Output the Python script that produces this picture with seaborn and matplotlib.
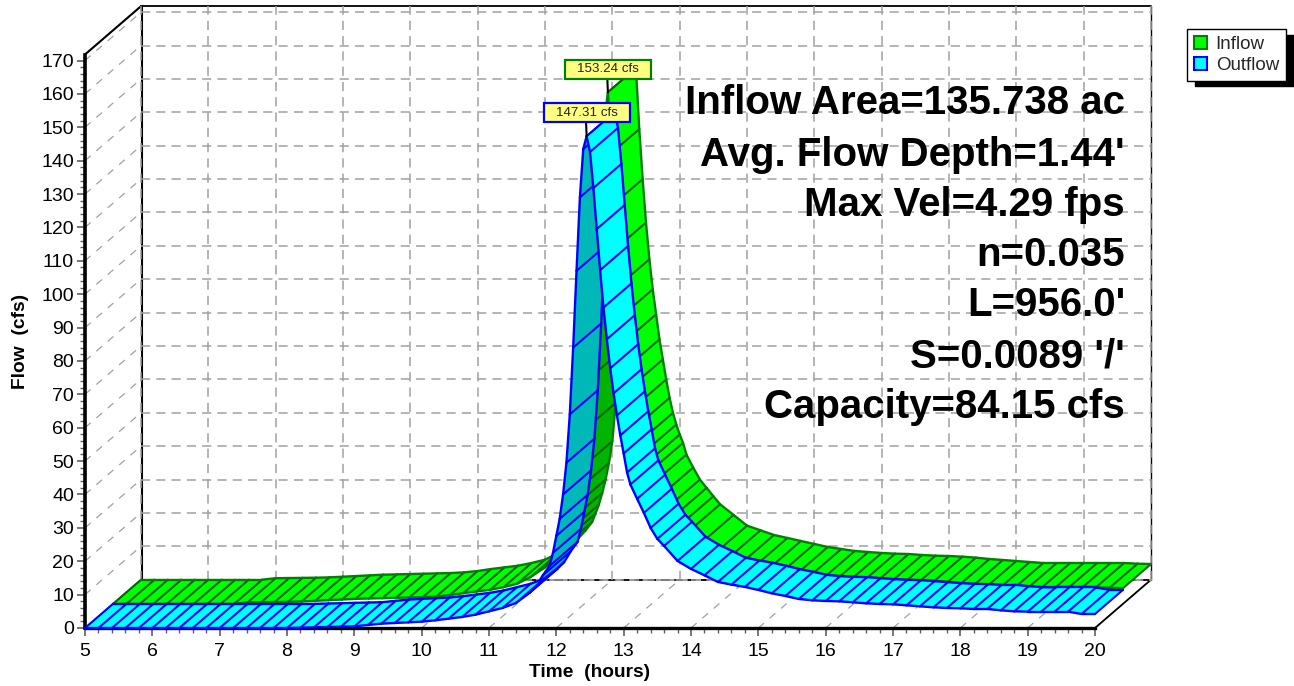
import numpy as np
import pandas as pd
import seaborn as sns
import matplotlib.pyplot as plt
from matplotlib.patches import Patch
from matplotlib.path import Path
from matplotlib.ticker import AutoMinorLocator

outflow_hours = [5, 5.2, 5.4, 5.6, 5.8, 6, 6.2, 6.4, 6.6, 6.8, 7, 7.2, 7.4, 7.6, 7.8, 8,
                 8.2, 8.4, 8.6, 8.8, 9, 9.2, 9.4, 9.6, 9.8, 10, 10.2, 10.4, 10.6, 10.8, 11, 11.2,
                 11.4, 11.6, 11.7, 11.8, 11.9, 11.95, 12, 12.05, 12.1, 12.15, 12.2, 12.25, 12.3, 12.35,
                 12.4, 12.45, 12.5, 12.55, 12.6, 12.65, 12.7, 12.75, 12.8, 12.85, 12.9, 12.95, 13, 13.05,
                 13.1, 13.2, 13.3, 13.4, 13.5, 13.6, 13.8, 14, 14.2, 14.4, 14.6, 14.8, 15, 15.2, 15.4, 15.6,
                 15.8, 16, 16.2, 16.4, 16.6, 16.8, 17, 17.2, 17.4, 17.6, 17.8, 18, 18.2, 18.4, 18.6, 18.8,
                 19, 19.2, 19.4, 19.6, 19.8, 20]
outflow_cfs = [0, 0, 0, 0, 0, 0, 0, 0, 0, 0, 0, 0, 0, 0, 0, 0,
               0.1, 0.2, 0.3, 0.4, 0.5, 0.9, 1.3, 1.5, 1.7, 1.9, 2.3, 2.8, 3.3, 4.0, 5.0, 6.0,
               7.5, 10.5, 12.5, 15.8, 18.6, 22.5, 27.6, 32.7, 40, 49.5, 64, 84, 107, 129,
               143.5, 147.31, 142.6, 131.8, 119.5, 107.2, 96, 86.5, 77.8, 70.3, 63.7, 57.7, 52.3, 46.6,
               43, 38.7, 34.5, 30, 26.7, 24.6, 20.1, 17.7, 15.8, 13.8, 13, 12.3, 11.4, 10.4, 9.6, 8.7,
               8.3, 8.1, 8, 7.7, 7.4, 7.2, 7.1, 6.8, 6.5, 6.2, 6, 5.9, 5.7, 5.7, 5.3, 5,
               4.9, 4.9, 4.9, 4.9, 4.2, 4.2]

inflow_hours = [5, 5.2, 5.4, 5.6, 5.8, 6, 6.2, 6.4, 6.6, 6.8, 7, 7.2, 7.4, 7.6, 7.8, 8,
                8.2, 8.4, 8.6, 8.8, 9, 9.2, 9.4, 9.6, 9.8, 10, 10.2, 10.4, 10.6, 10.8, 11, 11.2,
                11.4, 11.5, 11.6, 11.7, 11.75, 11.8, 11.85, 11.9, 11.95, 12, 12.05, 12.1, 12.15, 12.2, 12.25, 12.3,
                12.35, 12.4, 12.45, 12.5, 12.55, 12.6, 12.65, 12.7, 12.75, 12.8, 12.85, 12.9, 12.95, 13, 13.05,
                13.1, 13.2, 13.3, 13.4, 13.5, 13.6, 13.8, 14, 14.2, 14.4, 14.6, 14.8, 15, 15.2, 15.4, 15.6,
                15.8, 16, 16.2, 16.4, 16.6, 16.8, 17, 17.2, 17.4, 17.6, 17.8, 18, 18.2, 18.4, 18.6, 18.8,
                19, 19.2, 19.4, 19.6, 19.8, 20]
inflow_cfs = [0, 0, 0, 0, 0, 0, 0, 0, 0, 0, 0.45, 0.5, 0.55, 0.6, 0.7, 0.9,
              1.1, 1.3, 1.5, 1.6, 1.7, 1.8, 1.9, 2, 2.2, 2.6, 3.2, 3.7, 4.2, 5, 6, 8,
              10.7, 12.5, 14.7, 17.3, 19.8, 22.5, 26, 30, 35, 41.5, 53, 68, 88, 108, 128, 145,
              153.24, 135, 120, 107, 96, 87, 79.5, 72, 66, 60, 54.5, 50, 46.5, 43.5, 41,
              37.5, 33.6, 30, 27.5, 25, 22.6, 19.4, 16.2, 14.8, 13.4, 12.5, 11.6, 10.7, 9.8, 9.2, 8.6,
              8.3, 8, 7.8, 7.7, 7.4, 7.2, 7.1, 6.9, 6.6, 6.2, 5.9, 5.6, 5.3, 5, 5, 5,
              5, 5, 5, 5, 4.8, 4.7]

hour_ticks = list(range(5, 21))
flow_ticks = list(range(0, 171, 10))
info_lines = ["Inflow Area=135.738 ac", "Avg. Flow Depth=1.44'", "Max Vel=4.29 fps", "n=0.035",
              "L=956.0'", "S=0.0089 '/'", "Capacity=84.15 cfs"]
info_y = [102.5, 154.5, 204.5, 255.5, 305.5, 356.5, 407.5]

W, H = 1294, 686
PLOT_L, PLOT_R, PLOT_T, PLOT_B = 85, 1095, 54.5, 628
XLIM = (5, 20)
YLIM = (0, 171.8)
PX_H = (PLOT_R - PLOT_L) / (XLIM[1] - XLIM[0])
PX_Q = (PLOT_B - PLOT_T) / YLIM[1]
# full depth of the fake 3d box, in data units
DX = 56 / PX_H
DQ = 48.3 / PX_Q

GREY = '#a0a0a0'
DASH = (0, (6, 4))

sns.set_theme(style='white')
plt.rcParams['font.family'] = ['Liberation Sans', 'DejaVu Sans']

fig = plt.figure(figsize=(W / 100, H / 100), dpi=100)
ax = fig.add_axes([PLOT_L / W, 1 - PLOT_B / H, (PLOT_R - PLOT_L) / W, (PLOT_B - PLOT_T) / H])


def segs_to_df(segs):
    rows = []
    for k, (xs, ys) in enumerate(segs):
        for a, b in zip(xs, ys):
            rows.append((a, b, k))
    return pd.DataFrame(rows, columns=['x', 'y', 'seg'])


def draw_segs(segs, color, lw, z):
    if not segs:
        return
    sns.lineplot(data=segs_to_df(segs), x='x', y='y', units='seg', estimator=None, sort=False,
                 color=color, linewidth=lw, legend=False, clip_on=False, zorder=z, ax=ax)


def draw_ribbon(hours, cfs, depth, light, dark, edge, hatch, z):
    x0 = np.array(hours, dtype=float) + depth * DX
    y0 = np.array(cfs, dtype=float) + depth * DQ
    x1, y1 = x0 + DX / 2, y0 + DQ / 2
    n = len(x0)
    # a quad facing away from the viewer shows its darker underside
    top = [(x0[i + 1] - x0[i]) * PX_H * DQ / 2 * PX_Q - (y0[i + 1] - y0[i]) * PX_Q * DX / 2 * PX_H >= 0
           for i in range(n - 1)]
    for layer, col, lz in [(False, dark, z), (True, light, z + 1)]:
        idx = [i for i in range(n - 1) if top[i] == layer]
        edges, cross = [], []
        done = set()
        for i in idx:
            ax.fill([x0[i], x0[i + 1], x1[i + 1], x1[i]], [y0[i], y0[i + 1], y1[i + 1], y1[i]],
                    facecolor=col, edgecolor=col, linewidth=0.3, clip_on=False, zorder=lz)
            edges.append(([x0[i], x0[i + 1]], [y0[i], y0[i + 1]]))
            edges.append(([x1[i], x1[i + 1]], [y1[i], y1[i + 1]]))
            done.update([i, i + 1])
        for i in sorted(done):
            cross.append(([x0[i], x1[i]], [y0[i], y1[i]]))
        draw_segs(cross, hatch, 1.5, lz + 0.1)
        draw_segs(edges, edge, 1.7, lz + 0.2)


def wire(xs, ys, color=GREY, lw=1.1, ls='-', z=1):
    ax.plot(xs, ys, color=color, lw=lw, ls=ls, clip_on=False, zorder=z)


def tag_shape(x0, y0, width, height, mutation_size):
    # wider on the sides than above and below
    px, py = 0.9 * mutation_size, 0.28 * mutation_size
    xa, xb = x0 - px, x0 + width + px
    ya, yb = y0 - py, y0 + height + py
    return Path([(xa, ya), (xb, ya), (xb, yb), (xa, yb), (xa, ya)], closed=True)


top_q = YLIM[1]
# back wall and floor / side wall grid
for h in hour_ticks:
    wire([h + DX, h + DX], [DQ, top_q + DQ], ls=DASH, z=1.2)
    wire([h, h + DX], [0, DQ], lw=0.9, ls=(0, (6, 6)))
for q in flow_ticks:
    wire([5 + DX, 20 + DX], [q + DQ, q + DQ], ls=DASH, z=1.2)
    wire([5, 5 + DX], [q, q + DQ], lw=0.9, ls=(0, (6, 6)))

# box frame
wire([5 + DX + 0.012, 5 + DX + 0.012], [DQ, top_q + DQ], color='black', lw=1.5)
wire([5 + DX, 20 + DX], [top_q + DQ, top_q + DQ], color='black', lw=1.3)
wire([20 + DX, 20 + DX], [DQ, top_q + DQ], color='black', lw=1.0)
wire([5, 5 + DX], [top_q, top_q + DQ], color='black', lw=1.5)
wire([20, 20 + DX], [0, DQ], color='black', lw=1.3)
wire([5 + DX, 20 + DX], [DQ, DQ], color=GREY, lw=1.5)
wire([5 + DX, 20 + DX], [DQ, DQ], color='black', lw=1.2, ls=(0, (5, 3)), z=1.1)

draw_ribbon(inflow_hours, inflow_cfs, 0.5, '#00FF00', '#00B400', '#008000', '#006400', 4)
draw_ribbon(outflow_hours, outflow_cfs, 0, '#00FFFF', '#00B8B8', '#0000FF', '#0000FF', 7)

# peak tags
tag_box = dict(boxstyle=tag_shape, fc='#FFFF80', lw=1.6)
ax.annotate('153.24 cfs', xy=(12.35 + DX / 2, 153.24 + DQ / 2), xytext=(0.5, 23), textcoords='offset pixels',
            ha='center', va='center', fontsize=9.6, color='#202020', zorder=12,
            bbox=dict(tag_box, ec='#008000'), annotation_clip=False,
            arrowprops=dict(arrowstyle='-', color='black', lw=1.5, shrinkA=0, shrinkB=0, relpos=(0.48, 0)))
ax.annotate('147.31 cfs', xy=(12.45, 147.31), xytext=(0.5, 23.5), textcoords='offset pixels',
            ha='center', va='center', fontsize=9.6, color='#202020', zorder=12,
            bbox=dict(tag_box, ec='#0000FF'), annotation_clip=False,
            arrowprops=dict(arrowstyle='-', color='black', lw=1.5, shrinkA=0, shrinkB=0, relpos=(0.48, 0)))

ax.set_xlim(*XLIM)
ax.set_ylim(*YLIM)
ax.set_xticks(hour_ticks)
ax.set_yticks(flow_ticks)
ax.xaxis.set_minor_locator(AutoMinorLocator(5))
ax.yaxis.set_minor_locator(AutoMinorLocator(5))
ax.tick_params(which='major', left=True, bottom=True, length=6, width=1.2, color='#606060',
               labelsize=14, labelcolor='black', pad=2)
ax.tick_params(axis='x', which='major', pad=4.5)
ax.tick_params(which='minor', left=True, bottom=True, length=3.5, width=1.0, color='#606060')
ax.set_xlabel('Time  (hours)', fontsize=13.8, fontweight='bold', color='black', labelpad=3)
ax.set_ylabel('Flow  (cfs)', fontsize=13.8, fontweight='bold', color='black', labelpad=9)

ax.patch.set_alpha(0)
for side in ['top', 'right']:
    ax.spines[side].set_visible(False)
ax.spines['left'].set_color('black')
ax.spines['left'].set_linewidth(2.6)
ax.spines['bottom'].set_color('black')
ax.spines['bottom'].set_linewidth(2.4)

for line, y in zip(info_lines, info_y):
    fig.text(1125 / W, 1 - y / H, line, ha='right', va='center', fontsize=29, fontweight='bold',
             color='black', zorder=20)

handles = [Patch(facecolor='#00FF00', edgecolor='#008000', lw=1.5, label='Inflow'),
           Patch(facecolor='#00FFFF', edgecolor='#0000FF', lw=1.5, label='Outflow')]
leg = fig.legend(handles=handles, loc='upper left', bbox_to_anchor=(1187 / W, 1 - 29 / H),
                 fontsize=13.5, frameon=True, fancybox=False, edgecolor='black', facecolor='white',
                 framealpha=1, borderpad=0.38, labelspacing=0.18, handlelength=0.7, handleheight=0.7,
                 handletextpad=0.45, borderaxespad=0,
                 shadow=dict(ox=6, oy=-4, facecolor='black', edgecolor='black', alpha=1))

fig.savefig('out.png', dpi=100)
